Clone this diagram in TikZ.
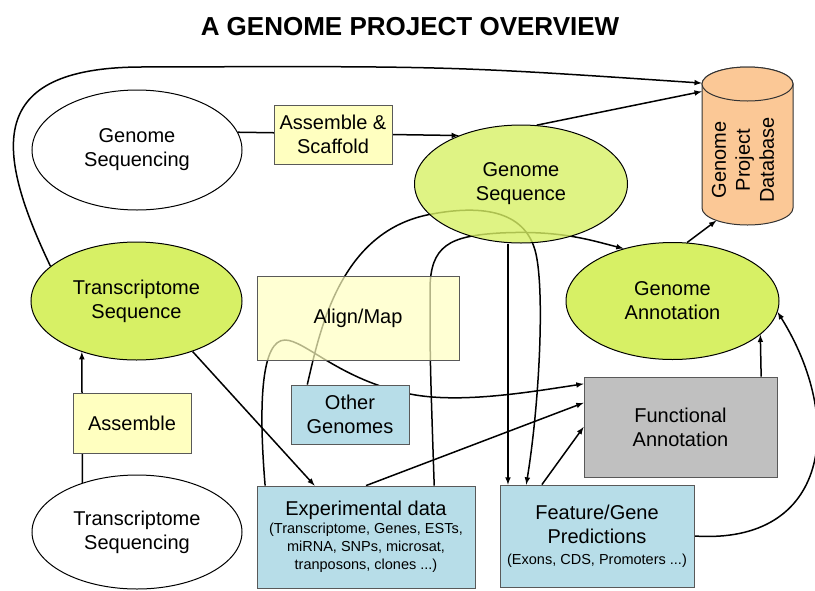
\documentclass[tikz,border=0pt]{standalone}
\usepackage{fontspec}
\setmainfont{Liberation Sans}
\usetikzlibrary{shapes.geometric, backgrounds}

\definecolor{seqgreen}{HTML}{D7F065}
\definecolor{boxyellow}{HTML}{FFFFC0}
\definecolor{boxblue}{HTML}{B7DDE8}
\definecolor{boxgray}{HTML}{C0C0C0}
\definecolor{dborange}{HTML}{FBC896}

\newcommand{\bigtext}{\fontsize{20}{24}\selectfont}
\newcommand{\smalltext}{\fontsize{14.5}{18}\selectfont}

\begin{document}
\begin{tikzpicture}[x=1pt, y=-1pt,
    % Define custom styles for nodes
    seqnode/.style={
        draw,
        ellipse,
        line width=1pt,
        fill=white,
        inner sep=0pt,
        align=center,
        font=\bigtext
    },
    resultnode/.style={seqnode, fill=seqgreen},
    stepbox/.style={
        draw=black!65,
        rectangle,
        line width=0.8pt,
        fill=boxyellow,
        inner sep=0pt,
        align=center,
        font=\bigtext
    },
    databox/.style={stepbox, fill=boxblue},
    dbpart/.style={draw=black!80, line width=1pt, fill=dborange},
    link/.style={line width=1.5pt, ->, >=latex}
]
\useasboundingbox (0,0) rectangle (815,590);

\node[font=\fontsize{26}{30}\selectfont\bfseries] (title) at (410,27) {A GENOME PROJECT OVERVIEW};

% Define nodes using the custom styles
\node[seqnode, minimum width=210pt, minimum height=120pt] (gsing) at (137,150) {Genome\\Sequencing};
\node[stepbox, minimum width=118pt, minimum height=59pt] (scaf) at (333,134.5) {Assemble \&\\Scaffold};
\node[resultnode, minimum width=213pt, minimum height=118pt, fill opacity=0.8, text opacity=1] (gseq) at (521,184) {Genome\\Sequence};
\node[resultnode, minimum width=213pt, minimum height=117pt] (gann) at (672.5,301) {Genome\\Annotation};
\node[resultnode, minimum width=211pt, minimum height=118pt] (tseq) at (136.5,301) {Transcriptome\\Sequence};
\node[stepbox, minimum width=202pt, minimum height=84pt, fill opacity=0.7, text opacity=1] (align) at (358,318) {Align/Map};
\node[stepbox, minimum width=118pt, minimum height=60pt] (asm) at (132,423) {Assemble};
\node[databox, minimum width=118pt, minimum height=59pt] (other) at (350,414.5) {Other\\Genomes};
\node[seqnode, minimum width=210pt, minimum height=114pt] (tsing) at (137,532) {Transcriptome\\Sequencing};
\node[databox, minimum width=218pt, minimum height=102pt] (exp) at (366,537) {Experimental data\\[-6pt]\smalltext(Transcriptome, Genes, ESTs,\\[-6pt]\smalltext miRNA, SNPs, microsat,\\[-6pt]\smalltext tranposons, clones ...)};
\node[databox, minimum width=194pt, minimum height=102pt] (feat) at (597,536) {Feature/Gene\\Predictions\\[-3pt]\smalltext(Exons, CDS, Promoters ...)};
\node[stepbox, fill=boxgray, minimum width=193pt, minimum height=100pt] (func) at (680.5,427) {Functional\\Annotation};

% The database cylinder
\draw[dbpart] (702,84) -- (702,208) arc[start angle=180, end angle=360, x radius=45.5pt, y radius=17pt] -- (793,84) arc[start angle=0, end angle=180, x radius=45.5pt, y radius=17pt] -- cycle;
\draw[dbpart] (747.5,84) ellipse[x radius=45.5pt, y radius=17pt];
\node[minimum width=91pt, minimum height=158pt, inner sep=0pt] (db) at (747.5,146) {};
\node[ellipse, minimum width=91pt, minimum height=34pt, inner sep=0pt] (dbbase) at (747.5,208) {};
\node[rotate=90, align=center, font=\bigtext] (dblabel) at (743,160) {Genome\\Project\\Database};

% Edges behind the nodes
\begin{pgfonlayer}{background}
\draw[link] (tseq.158) .. controls (-5,150) and (-15,68) .. (140,67) .. controls (450,66) .. (db.126); % long way round the top
\draw[link] (gseq.75) -- (db.130);
\draw[link] (gsing.10) -- (gseq.142); % through Assemble & Scaffold
\draw[link] (gann.76) -- (dbbase.202);
\draw[link] (exp.37) .. controls (430,360) .. (430,290) .. controls (430,245) and (450,236) .. (500,233) .. controls (560,230) and (590,240) .. (gann.133);
\draw[link] (other.145) .. controls (320,330) and (340,230) .. (432,214) .. controls (470,207) and (522,205) .. (535,250) .. controls (545,285) and (540,400) .. (feat.144);
\draw[link] (exp.153) .. controls (258,400) and (262,340) .. (285,340) .. controls (305,340) and (340,380) .. (410,394) .. controls (460,404) and (530,392) .. (func.156);
\draw[link] (exp.north) -- (func.166);
\draw[link] (feat.137) -- (func.west);
\draw[link] (feat.150 |- gseq.south) -- (feat.150);
\draw[link] (func.32) -- (gann.339);
\draw[link] (feat.east) .. controls (830,545) and (845,420) .. (gann.354);
\draw[link] (tseq.318) -- (exp.135);
\draw[link] (tsing.138) -- (tseq.223); % through Assemble
\end{pgfonlayer}

\end{tikzpicture}
\end{document}
